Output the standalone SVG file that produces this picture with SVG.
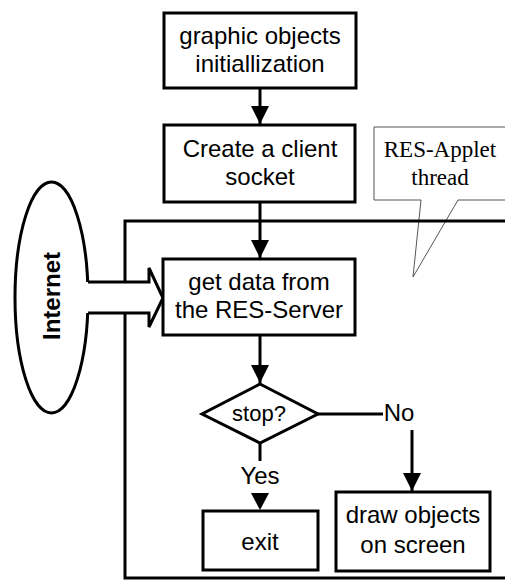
<svg xmlns="http://www.w3.org/2000/svg" width="505" height="588" viewBox="0 0 505 588">
  <style>
    .box { fill: #fff; stroke: #000; stroke-width: 3; }
    .lbl { font-family: "Liberation Sans", Arial, sans-serif; font-size: 24px; fill: #000; text-anchor: middle; }
    .serif { font-family: "Liberation Serif", "Times New Roman", serif; font-size: 23px; fill: #000; text-anchor: middle; }
    .wire { fill: none; stroke: #000; stroke-width: 3; }
  </style>
  <defs>
    <marker id="head" markerUnits="userSpaceOnUse" markerWidth="20" markerHeight="20" viewBox="0 0 20 20" refX="18" refY="10" orient="auto">
      <path d="M0,1 L18,10 L0,19 Z" fill="#000"/>
    </marker>
  </defs>
  <rect width="505" height="588" fill="#fff"/>

  <!-- speech bubble with thread label -->
  <g id="thread-callout">
    <path d="M374,127 L506,127 L506,200 L458,200 L413,277 L421,200 L374,200 Z" fill="#fff" stroke="#555" stroke-width="1"/>
    <text class="serif" x="440" y="157">RES-Applet</text>
    <text class="serif" x="440" y="185">thread</text>
  </g>

  <!-- loop frame and flow connectors -->
  <g id="connectors">
    <path class="wire" d="M506,221 L125,221 L125,578 L506,578"/>
    <line class="wire" x1="260" y1="88" x2="260" y2="124" marker-end="url(#head)"/>
    <line class="wire" x1="260" y1="202" x2="260" y2="258" marker-end="url(#head)"/>
    <line class="wire" x1="260" y1="335" x2="260" y2="383" marker-end="url(#head)"/>
    <line class="wire" x1="318" y1="414" x2="383" y2="414"/>
    <line class="wire" x1="412" y1="430" x2="412" y2="491" marker-end="url(#head)"/>
    <line class="wire" x1="260" y1="443" x2="260" y2="461"/>
    <path d="M251,493 L269,493 L260,510 Z" fill="#000"/>
    <text class="lbl" x="399" y="421">No</text>
    <text class="lbl" x="260" y="484">Yes</text>
  </g>

  <g id="internet">
    <ellipse cx="51.5" cy="297.5" rx="36.5" ry="115.5" fill="#fff" stroke="#000" stroke-width="3"/>
    <text class="lbl" transform="translate(60,296) rotate(-90)" x="0" y="0" font-weight="bold">Internet</text>
  </g>

  <!-- block arrow feeding the data box -->
  <g id="internet-arrow">
    <path d="M80,282 L149,282 L149,268 L163,298 L149,327 L149,313 L80,313 Z" fill="#fff"/>
    <path d="M88,282 L149,282 L149,268 L163,298 L149,327 L149,313 L88,313" fill="none" stroke="#000" stroke-width="3" stroke-linejoin="miter"/>
  </g>

  <g id="init">
    <rect class="box" x="164" y="13" width="192" height="75"/>
    <text class="lbl" x="260" y="44">graphic objects</text>
    <text class="lbl" x="260" y="72">initiallization</text>
  </g>

  <g id="socket">
    <rect class="box" x="164" y="125" width="191" height="77"/>
    <text class="lbl" x="260" y="157">Create a client</text>
    <text class="lbl" x="260" y="185">socket</text>
  </g>

  <g id="get-data">
    <rect class="box" x="163" y="259" width="192" height="76"/>
    <text class="lbl" x="259" y="290">get data from</text>
    <text class="lbl" x="259" y="318">the RES-Server</text>
  </g>

  <g id="stop">
    <path class="box" d="M260,384 L318,414 L260,443 L202,414 Z"/>
    <text class="lbl" x="259" y="421" style="font-size:22px">stop?</text>
  </g>

  <g id="exit">
    <rect class="box" x="203" y="511" width="115" height="59"/>
    <text class="lbl" x="260" y="550">exit</text>
  </g>

  <g id="draw">
    <rect class="box" x="336" y="492" width="154" height="79"/>
    <text class="lbl" x="413" y="523">draw objects</text>
    <text class="lbl" x="413" y="553">on screen</text>
  </g>
</svg>
